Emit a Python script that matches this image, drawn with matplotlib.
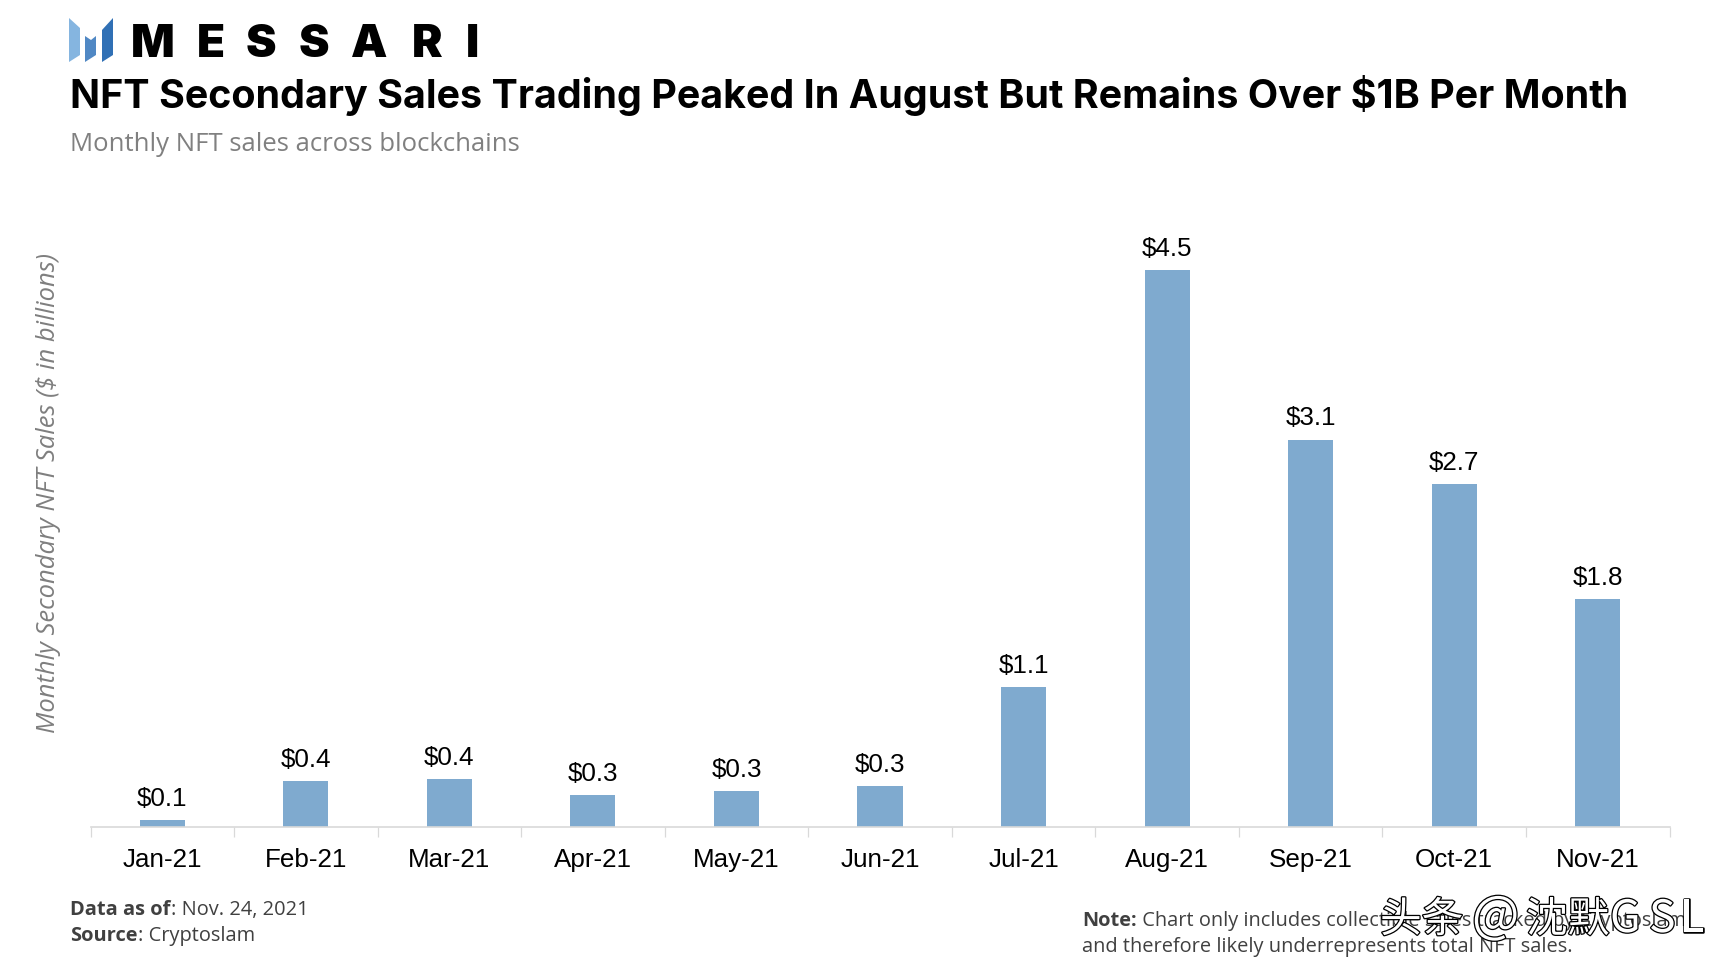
import matplotlib
matplotlib.use('Agg')
import matplotlib.pyplot as plt
import matplotlib.patheffects as pe
from matplotlib.patches import Polygon

W, H = 1734, 968

months = ['Jan-21', 'Feb-21', 'Mar-21', 'Apr-21', 'May-21', 'Jun-21',
          'Jul-21', 'Aug-21', 'Sep-21', 'Oct-21', 'Nov-21']
sales = [0.06, 0.37, 0.385, 0.26, 0.29, 0.33, 1.13, 4.5, 3.13, 2.77, 1.84]
labels = ['$0.1', '$0.4', '$0.4', '$0.3', '$0.3', '$0.3', '$1.1', '$4.5', '$3.1', '$2.7', '$1.8']

fig = plt.figure(figsize=(W / 100, H / 100), dpi=100, facecolor='white')

# axes placed in pixels, 123.8 px per $1B
left, right, base = 90.5, 1669.5, 827
ymax = 5
ax = fig.add_axes([left / W, 1 - base / H, (right - left) / W, ymax * 123.8 / H])
x = range(len(months))
ax.bar(x, sales, width=0.314, color='#7FAACF')
for i, v in enumerate(sales):
    ax.annotate(labels[i], (i, v), xytext=(0, 6.5), textcoords='offset points', ha='center', va='bottom',
                fontsize=18.7, family='Liberation Sans', color='black')
ax.set_xlim(-0.5, len(months) - 0.5)
ax.set_ylim(0, ymax)
ax.set_yticks([])
for s in ['top', 'left', 'right']:
    ax.spines[s].set_visible(False)
ax.spines['bottom'].set_color('#D9D9D9')
ax.spines['bottom'].set_linewidth(1.2)
ax.set_xticks([i - 0.5 for i in range(len(months) + 1)])
ax.set_xticklabels([])
ax.set_xticks(list(x), months, minor=True, fontsize=18.7, family='Liberation Sans')
ax.tick_params(axis='x', which='major', length=7, width=0.9, color='#D9D9D9')
ax.tick_params(axis='x', which='minor', length=0, pad=14.8)


def px(x, y, s, **kw):
    return fig.text(x / W, 1 - y / H, s, va='baseline', **kw)


def pieces(x, y, parts, **kw):
    # bold + regular on one line
    for s, weight in parts:
        t = px(x, y, s, fontweight=weight, **kw)
        x = t.get_window_extent(fig.canvas.get_renderer()).x1 + 0.5


# logo
for pts, c in [([(69, 18), (80, 28), (80, 55), (69, 62)], '#85B5E0'),
               ([(85, 36), (91, 40), (96, 36), (96, 55), (85, 62)], '#5088C4'),
               ([(102, 30), (113, 18), (113, 55), (102, 62)], '#3070B5')]:
    fig.add_artist(Polygon([(a / W, 1 - b / H) for a, b in pts], closed=True, color=c, lw=0, transform=fig.transFigure))
for s, xc in zip('MESSARI', [152.5, 211, 261, 313.5, 369, 427, 473]):
    px(xc, 57, s, fontsize=33, fontweight='black', family='Inter', ha='center', color='black')

px(70, 108, 'NFT Secondary Sales Trading Peaked In August But Remains Over $1B Per Month',
   fontsize=28.4, fontweight='bold', family='Inter', color='black')
px(70, 151, 'Monthly NFT sales across blockchains', fontsize=18.5, family='Open Sans', color='#808080')

fig.text(49 / W, 1 - 493 / H, 'Monthly Secondary NFT Sales ($ in billions)', rotation=90, ha='center', va='center',
         fontsize=18.4, style='italic', family='Open Sans', color='#7F7F7F')

note = dict(fontsize=14.4, family='Open Sans', color='#404040')
pieces(70, 915, [('Data as of', 'bold'), (': Nov. 24, 2021', 'normal')], **note)
pieces(70, 941, [('Source', 'bold'), (': Cryptoslam', 'normal')], **note)
pieces(1082, 926, [('Note:', 'bold'), (' Chart only includes collectible sales tracked by Cryptoslam', 'normal')], **note)
px(1082, 952, 'and therefore likely underrepresents total NFT sales.', **note)

# watermark over the note, letters are spread out so placed one group at a time
cjk = ['Noto Sans CJK SC', 'DejaVu Sans']
stroke = [pe.withStroke(linewidth=1.8, foreground='black')]
for s, xs, size in [('头条', 1380, 30), ('@', 1472, 36), ('沈默', 1526, 30),
                    ('G', 1610, 32), ('S', 1649, 32), ('L', 1680, 32)]:
    px(xs, 932, s, fontsize=size, family=cjk, color='white', path_effects=stroke)

fig.savefig('out.png', dpi=100, facecolor='white')
